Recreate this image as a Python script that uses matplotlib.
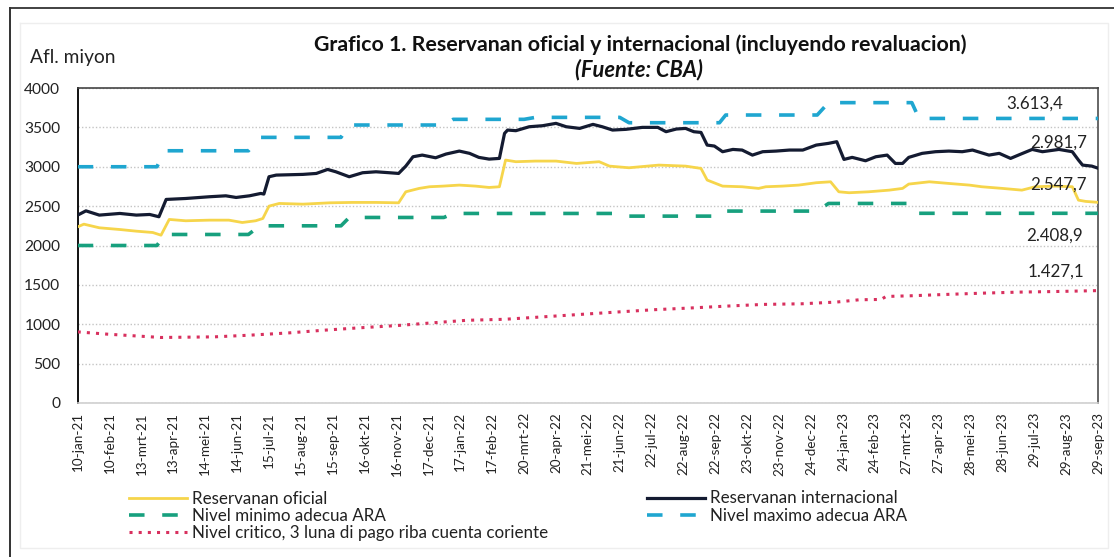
import matplotlib
matplotlib.use("Agg")
import matplotlib.pyplot as plt
import pandas as pd
from matplotlib.lines import Line2D

plt.rcParams['font.family'] = ['Lato', 'DejaVu Sans']

# ---------------- data ----------------
start_date = "2021-01-10"
tick_labels = ["10-jan-21", "10-feb-21", "13-mrt-21", "13-apr-21", "14-mei-21", "14-jun-21",
               "15-jul-21", "15-aug-21", "15-sep-21", "16-okt-21", "16-nov-21", "17-dec-21",
               "17-jan-22", "17-feb-22", "20-mrt-22", "20-apr-22", "21-mei-22", "21-jun-22",
               "22-jul-22", "22-aug-22", "22-sep-22", "23-okt-22", "23-nov-22", "24-dec-22",
               "24-jan-23", "24-feb-23", "27-mrt-23", "27-apr-23", "28-mei-23", "28-jun-23",
               "29-jul-23", "29-aug-23", "29-sep-23"]
tick_step_days = 31

# days elapsed since start_date
intl_days = [0, 8, 21, 41, 57, 70, 79, 86, 105, 128, 144, 154, 167, 178, 181, 186, 193, 219, 232, 243,
             251, 264, 277, 290, 303, 312, 319, 326, 335, 348, 358, 371, 381, 390, 400, 410, 415, 418, 426, 439,
             452, 465, 475, 488, 501, 510, 520, 533, 549, 564, 572, 582, 591, 599, 606, 612, 619, 627, 637, 646,
             656, 666, 679, 692, 705, 718, 730, 738, 745, 753, 766, 776, 787, 795, 802, 808, 821, 834, 847, 860,
             870, 886, 896, 907, 917, 928, 938, 954, 967, 973, 977, 986, 992]
intl_vals = [2386, 2440, 2386, 2407, 2386, 2394, 2365, 2585, 2597, 2619, 2631, 2610, 2631, 2661, 2653, 2873, 2894, 2903, 2915, 2966,
             2936, 2873, 2924, 2936, 2924, 2915, 3008, 3127, 3148, 3114, 3161, 3199, 3170, 3119, 3097, 3106, 3424, 3466, 3458, 3508,
             3521, 3551, 3508, 3487, 3538, 3508, 3466, 3475, 3500, 3500, 3445, 3479, 3487, 3445, 3436, 3275, 3263, 3191, 3220, 3212,
             3148, 3191, 3199, 3212, 3212, 3275, 3297, 3318, 3093, 3119, 3076, 3127, 3148, 3042, 3042, 3119, 3170, 3191, 3199, 3191,
             3212, 3148, 3170, 3106, 3161, 3220, 3191, 3220, 3191, 3085, 3021, 3008, 2981.7]

ofc_days = [0, 6, 21, 41, 57, 73, 81, 89, 105, 128, 147, 160, 173, 180, 186, 196, 219, 245, 267, 290,
            312, 319, 332, 342, 355, 371, 387, 400, 410, 416, 426, 445, 465, 485, 507, 517, 536, 565, 591, 606,
            612, 627, 646, 662, 669, 685, 701, 718, 732, 740, 750, 769, 789, 802, 808, 828, 847, 867, 879, 899,
            918, 931, 951, 967, 973, 980, 992]
ofc_vals = [2237, 2271, 2225, 2203, 2182, 2165, 2131, 2331, 2314, 2322, 2322, 2292, 2314, 2343, 2500, 2534, 2525, 2542, 2547, 2547,
            2542, 2682, 2725, 2746, 2754, 2767, 2754, 2737, 2746, 3085, 3064, 3072, 3072, 3042, 3064, 3008, 2987, 3021, 3008, 2979,
            2831, 2754, 2746, 2725, 2746, 2754, 2767, 2797, 2809, 2682, 2670, 2682, 2703, 2725, 2780, 2809, 2788, 2767, 2746, 2725,
            2703, 2746, 2754, 2746, 2576, 2560, 2547.7]

max_days = [0, 77, 85, 166, 177, 256, 264, 356, 365, 434, 445, 527, 536, 624, 630, 719, 730, 811, 818, 992]
max_vals = [3000, 3000, 3203, 3203, 3373, 3373, 3530, 3530, 3602, 3602, 3627, 3627, 3559, 3559, 3657, 3657,
            3814, 3814, 3613.4, 3613.4]

min_days = [0, 77, 85, 166, 177, 256, 264, 356, 365, 527, 536, 624, 630, 719, 730, 811, 818, 992]
min_vals = [2000, 2000, 2140, 2140, 2250, 2250, 2356, 2356, 2407, 2407, 2373, 2373, 2437, 2437, 2534, 2534,
            2408.9, 2408.9]

crit_days = [0, 29, 81, 133, 167, 205, 239, 273, 310, 344, 378, 415, 450, 490, 524, 561, 595, 632, 667, 704,
             738, 760, 781, 786, 809, 843, 880, 915, 952, 992]
crit_vals = [903, 874, 832, 840, 861, 890, 924, 954, 983, 1017, 1050, 1063, 1092, 1126, 1155, 1185, 1206, 1231, 1252, 1260,
             1282, 1311, 1315, 1353, 1361, 1378, 1395, 1408, 1416, 1427.1]

labels = {
    "ofc": "Reservanan oficial",
    "intl": "Reservanan internacional",
    "min": "Nivel minimo adecua ARA",
    "max": "Nivel maximo adecua ARA",
    "crit": "Nivel critico, 3 luna di pago riba cuenta coriente",
}
title1 = "Grafico 1. Reservanan oficial y internacional (incluyendo revaluacion)"
title2 = "(Fuente: CBA)"
unit_label = "Afl. miyon"

# ---------------- helpers ----------------
t0 = pd.Timestamp(start_date)


def to_dates(days):
    return t0 + pd.to_timedelta(days, unit="D")


def fmt(v):
    s = f"{v:,.1f}"
    return s.replace(",", "X").replace(".", ",").replace("X", ".")


W, H = 1114, 557
fig = plt.figure(figsize=(W / 100, H / 100), dpi=100)
fig.patch.set_facecolor("white")
renderer = fig.canvas.get_renderer()


def fx(px):
    return px / W


def fy(py):
    return 1 - py / H


def fit_size(text, target_px, **kw):
    """font size (pt) so that the rendered text is target_px wide."""
    t = fig.text(0, 0, text, fontsize=10, **kw)
    w = t.get_window_extent(renderer).width
    t.remove()
    return 10 * target_px / w


# ---------------- axes ----------------
ax_l, ax_r, ax_t, ax_b = 77.7, 1098, 88, 403
ax = fig.add_axes([fx(ax_l), fy(ax_b), fx(ax_r - ax_l), (ax_b - ax_t) / H])

c_ofc = "#F6D54B"
c_intl = "#141B31"
c_min = "#17A07E"
c_max = "#1FA6D0"
c_crit = "#D8305E"

l_ofc, = ax.plot(to_dates(ofc_days), ofc_vals, color=c_ofc, lw=2.0, label=labels["ofc"], zorder=4)
l_intl, = ax.plot(to_dates(intl_days), intl_vals, color=c_intl, lw=2.3, label=labels["intl"], zorder=5)
l_min, = ax.plot(to_dates(min_days), min_vals, color=c_min, lw=2.6, ls=(0, (4.3, 4.9)), label=labels["min"], zorder=3)
l_max, = ax.plot(to_dates(max_days), max_vals, color=c_max, lw=2.6, ls=(0, (4.3, 4.9)), label=labels["max"], zorder=3)
l_crit, = ax.plot(to_dates(crit_days), crit_vals, color=c_crit, lw=2.2, ls=(0, (1, 2)), label=labels["crit"], zorder=3)

ytick_fs = fit_size("4000", 36)
xtick_fs = fit_size("29-sep-23", 62)
ann_fs = fit_size("3.613,4", 57)
leg_fs = fit_size(labels["intl"], 188)
unit_fs = fit_size(unit_label, 85)
t1_fs = fit_size(title1, 656, fontweight="bold")
t2_fs = fit_size(title2, 128, fontweight="bold", fontstyle="italic")

ax.set_ylim(0, 4000)
ax.set_yticks(range(0, 4001, 500))
ax.set_yticklabels([str(v) for v in range(0, 4001, 500)], fontsize=ytick_fs, color="#222222")
tick_pos = to_dates([i * tick_step_days for i in range(len(tick_labels))])
ax.set_xlim(tick_pos[0], tick_pos[-1])
ax.set_xticks(tick_pos)
ax.set_xticklabels(tick_labels, rotation=90, fontsize=xtick_fs, color="#222222", ha="center", va="top")
ax.tick_params(axis="y", length=0, pad=12.5)
ax.tick_params(axis="x", length=0, pad=6.5)

ax.yaxis.grid(True, color="#c4c4c4", lw=1.0, ls=(0, (1, 1.5)))
ax.set_axisbelow(True)
ax.spines["left"].set_color("#111111")
ax.spines["left"].set_linewidth(1.4)
ax.spines["top"].set_color("#444444")
ax.spines["top"].set_linewidth(1.2)
ax.spines["right"].set_color("#666666")
ax.spines["right"].set_linewidth(1.4)
ax.spines["bottom"].set_color("#cfcfcf")
ax.spines["bottom"].set_linewidth(1.2)

# end-value labels
ann = [(max_days, max_vals, (-63, 15)),
       (intl_days, intl_vals, (-39, 26)),
       (ofc_days, ofc_vals, (-40, 18)),
       (min_days, min_vals, (-44, -22)),
       (crit_days, crit_vals, (-42, 19))]
for d, v, off in ann:
    ax.annotate(fmt(v[-1]), xy=(to_dates([d[-1]])[0], v[-1]), xytext=off, textcoords="offset pixels",
                ha="center", va="center", fontsize=ann_fs, color="#222222", annotation_clip=False, zorder=6)

# titles
fig.text(fx(640), fy(45), title1, ha="center", va="center", fontsize=t1_fs, fontweight="bold", color="#111111")
fig.text(fx(639), fy(70), title2, ha="center", va="center", fontsize=t2_fs,
         fontweight="bold", fontstyle="italic", color="#111111")
fig.text(fx(30), fy(58), unit_label, ha="left", va="center", fontsize=unit_fs, color="#222222")

# legends
leg_kw = dict(frameon=False, fontsize=leg_fs, handlelength=3.4, handletextpad=0.28, labelspacing=0.06,
              borderpad=0, borderaxespad=0, loc="center left")
leg1 = fig.legend(handles=[l_ofc, l_min, l_crit], bbox_to_anchor=(fx(129), fy(516)), **leg_kw)
leg2 = fig.legend(handles=[l_intl, l_max], bbox_to_anchor=(fx(647), fy(507)), **leg_kw)
for lg in (leg1, leg2):
    for t in lg.get_texts():
        t.set_color("#222222")

# outer frame lines
fig.add_artist(Line2D([fx(9.5), fx(9.5)], [fy(7.5), 0], color="#222222", lw=1.3, transform=fig.transFigure))
fig.add_artist(Line2D([fx(9.5), 1], [fy(7.5), fy(7.5)], color="#333333", lw=1.3, transform=fig.transFigure))
fig.add_artist(Line2D([fx(20), fx(1108), fx(1108), fx(20), fx(20)],
                      [fy(23), fy(23), fy(548), fy(548), fy(23)], color="#eeeeee", lw=1.0,
                      transform=fig.transFigure, zorder=0))

fig.savefig("out.png", dpi=100)
